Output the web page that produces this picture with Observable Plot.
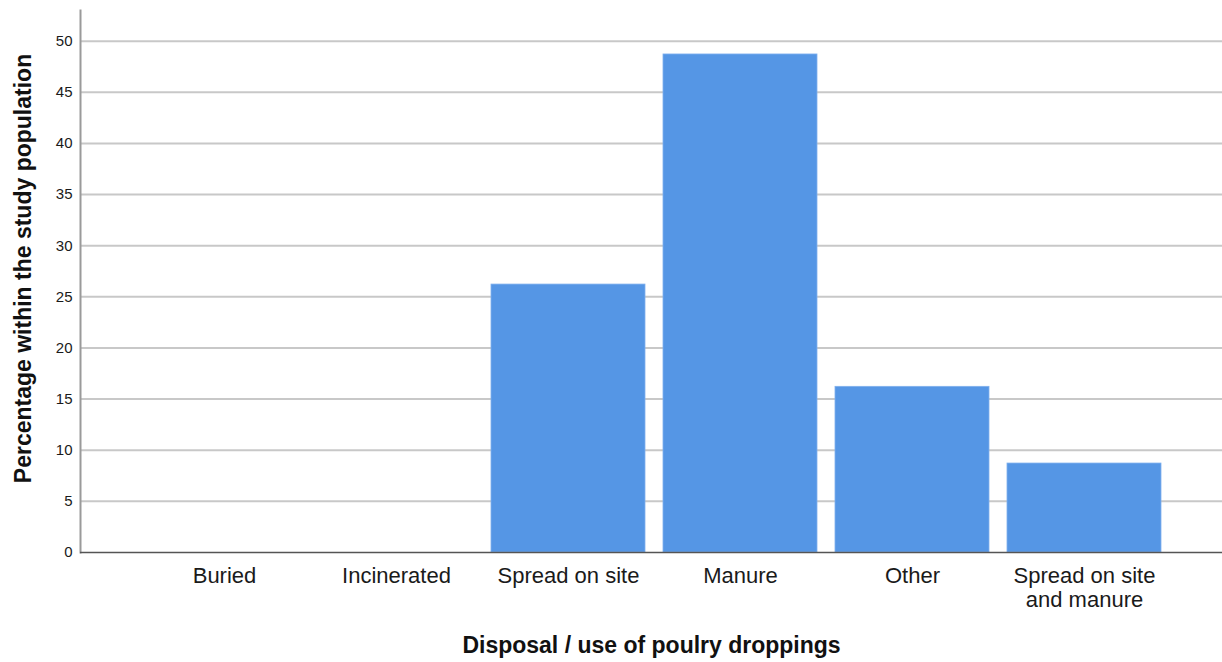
<!DOCTYPE html>
<html>
<head>
<meta charset="utf-8">
<script src="https://cdn.jsdelivr.net/npm/d3@7"></script>
<script src="https://cdn.jsdelivr.net/npm/@observablehq/plot@0.6"></script>
<style>
  html, body { margin: 0; padding: 0; background: #ffffff; }
  #chart { width: 1222px; height: 662px; }
</style>
</head>
<body>
<div id="chart"></div>
<script>
const categories = ["Buried", "Incinerated", "Spread on site", "Manure", "Other", "Spread on site and manure"];
const tickLabels = ["Buried", "Incinerated", "Spread on site", "Manure", "Other", "Spread on site\nand manure"];
const values = [0, 0, 26.2, 48.7, 16.2, 8.7];
const yTicks = [0, 5, 10, 15, 20, 25, 30, 35, 40, 45, 50];
const xTitle = "Disposal / use of poulry droppings";
const yTitle = "Percentage within the study population";

const data = categories.map((c, i) => ({category: c, value: values[i]}));
const labelOf = new Map(categories.map((c, i) => [c, tickLabels[i]]));

const chart = Plot.plot({
  width: 1222,
  height: 662,
  marginLeft: 80,
  marginRight: 0,
  marginTop: 10,
  marginBottom: 110,
  style: {fontFamily: "'Liberation Sans', Arial, sans-serif", background: "#ffffff", color: "#1a1a1a"},
  x: {domain: categories, paddingInner: 0.105, paddingOuter: 0.372, align: 0.52, label: null},
  y: {domain: [0, 53], label: null},
  marks: [
    Plot.gridY(yTicks.filter(d => d > 0), {stroke: "#c8c8c8", strokeOpacity: 1, strokeWidth: 2}),
    Plot.barY(data, {x: "category", y: "value", fill: "#5596e5", stroke: "#7fb0ee", strokeWidth: 0.8}),
    Plot.frame({anchor: "left", stroke: "#9a9a9a", strokeWidth: 2}),
    Plot.ruleY([0], {stroke: "#555555", strokeWidth: 1.5}),
    Plot.axisY(yTicks, {tickSize: 0, tickPadding: 8, fontSize: 15, label: null}),
    Plot.axisX({tickSize: 0, tickPadding: 13, fontSize: 22, lineHeight: 1.1, tickFormat: d => labelOf.get(d), label: null}),
    Plot.text([xTitle], {frameAnchor: "bottom", dy: 93, lineAnchor: "middle", fontSize: 23, fontWeight: "bold", fill: "#111111"}),
    Plot.text([yTitle], {frameAnchor: "left", textAnchor: "middle", lineAnchor: "middle", rotate: -90, dx: -57, dy: -13, fontSize: 23, fontWeight: "bold", fill: "#111111"})
  ]
});
document.getElementById("chart").appendChild(chart);
</script>
</body>
</html>
